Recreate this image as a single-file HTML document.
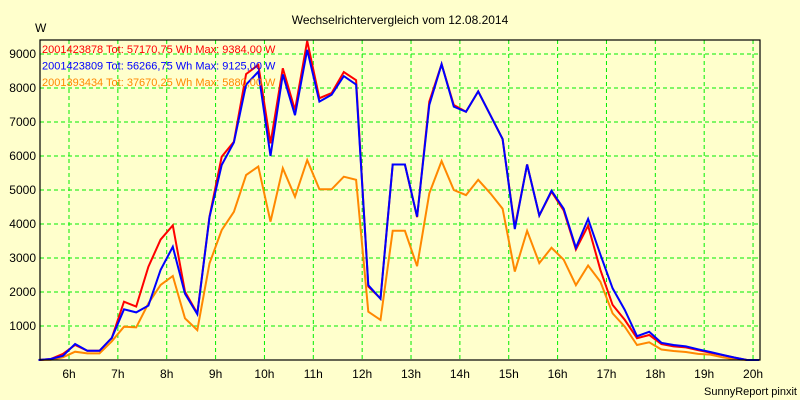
<!DOCTYPE html>
<html><head><meta charset="utf-8"><style>
html,body{margin:0;padding:0;background:#FFFFCC;}
svg{display:block;font-family:"Liberation Sans",sans-serif;}
</style></head><body>
<svg id="chart" width="800" height="400" xmlns="http://www.w3.org/2000/svg">
<rect x="0" y="0" width="800" height="400" fill="#FFFFCC"/>
<text x="400" y="24" text-anchor="middle" font-size="12" fill="#000">Wechselrichtervergleich vom 12.08.2014</text>
<text x="35" y="32" font-size="12" fill="#000">W</text>
<text x="797" y="395" text-anchor="end" font-size="11" fill="#000">SunnyReport pinxit</text>
<g id="grid"></g>
<g id="series"></g>
<rect x="40" y="40" width="720" height="320" fill="none" stroke="#000" stroke-width="1.2"/>
<g id="legend"></g>
</svg>
<script>
const yTicks=[1000,2000,3000,4000,5000,6000,7000,8000,9000];
const xTicks=[6,7,8,9,10,11,12,13,14,15,16,17,18,19,20];
const times=[];for(let k=0;k<60;k++)times.push(5.375+0.25*k);
const redValues=[0,30,180,440,270,270,650,1715,1570,2745,3540,3960,2010,1370,4215,5980,6420,8410,8680,6370,8580,7350,9384,7700,7850,8470,8230,2160,1810,5750,5750,4200,7600,8700,7500,7300,7900,7200,6500,3900,5750,4250,4950,4400,3250,3950,2650,1620,1180,640,735,470,400,370,290,215,145,70,0,0];
const blueValues=[0,30,120,470,270,270,650,1490,1400,1600,2650,3330,1950,1350,4200,5735,6400,8100,8480,6000,8400,7200,9125,7600,7800,8350,8100,2200,1800,5750,5750,4215,7500,8700,7450,7300,7900,7200,6500,3850,5750,4250,4980,4450,3300,4150,3100,2110,1470,700,830,505,440,400,315,235,150,70,0,0];
const orangeValues=[0,5,80,245,195,195,550,980,960,1665,2205,2470,1225,880,2840,3820,4360,5440,5690,4070,5640,4800,5880,5020,5020,5390,5300,1420,1180,3800,3800,2760,4900,5850,5000,4850,5300,4900,4450,2600,3800,2850,3300,2950,2200,2780,2300,1370,980,440,520,310,265,235,180,160,80,20,0,0];
const legendLabels=["2001423878 Tot: 57170,75 Wh Max: 9384,00 W","2001423809 Tot: 56266,75 Wh Max: 9125,00 W","2001393434 Tot: 37670,25 Wh Max: 5880,00 W"];
const NS="http://www.w3.org/2000/svg";
const L=40,R=760,T=40,B=360;
function xs(t){return 69+(t-6)*48.86;}
function ys(v){return 360-v*0.034;}
const grid=document.getElementById('grid');
yTicks.forEach(v=>{
 const l=document.createElementNS(NS,'line');
 l.setAttribute('x1',L);l.setAttribute('x2',R);l.setAttribute('y1',ys(v));l.setAttribute('y2',ys(v));
 l.setAttribute('stroke','#00EE00');l.setAttribute('stroke-dasharray','4,3');
 
 
 grid.appendChild(l);
 const t=document.createElementNS(NS,'text');
 t.setAttribute('x',36);t.setAttribute('y',ys(v)+4);t.setAttribute('text-anchor','end');t.setAttribute('font-size','12');
 t.textContent=v;
 
 
 grid.appendChild(t);
});
xTicks.forEach(h=>{
 const l=document.createElementNS(NS,'line');
 l.setAttribute('x1',xs(h));l.setAttribute('x2',xs(h));l.setAttribute('y1',T);l.setAttribute('y2',B);
 l.setAttribute('stroke','#00EE00');l.setAttribute('stroke-dasharray','4,3');
 
 
 grid.appendChild(l);
 const t=document.createElementNS(NS,'text');
 t.setAttribute('x',xs(h));t.setAttribute('y',378);t.setAttribute('text-anchor','middle');t.setAttribute('font-size','12');
 t.textContent=h+'h';
 
 
 grid.appendChild(t);
});
const sg=document.getElementById('series');
[[orangeValues,'#FF8800','series-2001393434'],[redValues,'#FF0000','series-2001423878'],[blueValues,'#0000FF','series-2001423809']].forEach(([vals,col,name])=>{
 const p=document.createElementNS(NS,'polyline');
 p.setAttribute('points',vals.map((v,i)=>xs(times[i]).toFixed(1)+','+ys(v).toFixed(1)).join(' '));
 p.setAttribute('fill','none');p.setAttribute('stroke',col);p.setAttribute('stroke-width','2');
 
 
 sg.appendChild(p);
});
const lg=document.getElementById('legend');
const lcol=['#FF0000','#0000FF','#FF8800'];
legendLabels.forEach((s,i)=>{
 const t=document.createElementNS(NS,'text');
 t.setAttribute('x',42);t.setAttribute('y',53+i*16.5);t.setAttribute('font-size','11');t.setAttribute('fill',lcol[i]);
 t.textContent=s;
 
 
 lg.appendChild(t);
});
</script>
</body></html>
